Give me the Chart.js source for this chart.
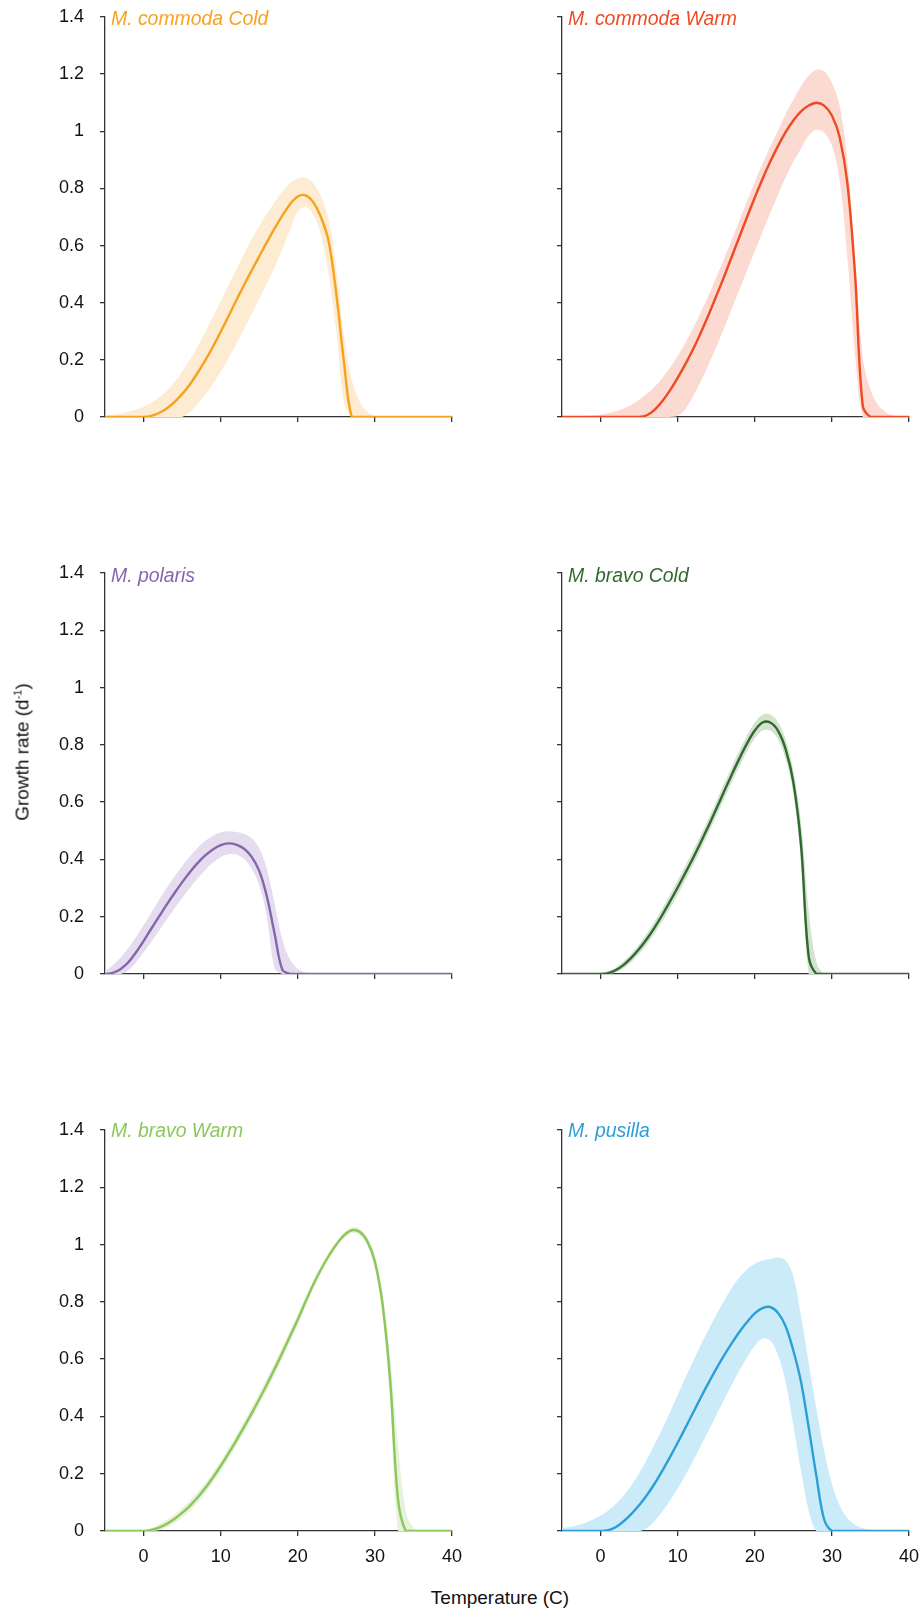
<!DOCTYPE html>
<html>
<head>
<meta charset="utf-8">
<script src="https://cdn.jsdelivr.net/npm/chart.js@4.4.1/dist/chart.umd.min.js"></script>
<style>
  body { margin: 0; width: 923px; height: 1608px; background: #fff; position: relative; overflow: hidden;
         font-family: "Liberation Sans", Arial, sans-serif; color: #111; }
  canvas { position: absolute; }
  .title { position: absolute; font-style: italic; font-size: 19.4px; line-height: 1; white-space: nowrap; }
  .axis-title { position: absolute; font-size: 19px; line-height: 1; white-space: nowrap; }
  .axis-title sup { font-size: 11px; vertical-align: 7px; }
</style>
</head>
<body>
<script>
// temperature grid (C)
const temps = [-5,-4,-3,-2,-1,0,1,2,3,4,5,6,7,8,9,10,11,12,13,14,15,16,17,18,19,20,
               21,22,23,24,25,26,27,28,29,30,31,32,33,34,35,36,37,38,39,40];
const xTicks = [0, 10, 20, 30, 40];
const yTicks = [0, 0.2, 0.4, 0.6, 0.8, 1, 1.2, 1.4];

// M. commoda Cold
const ccMean  = [0,0,0,0,0,0,0.004,0.014,0.03,0.052,0.08,0.114,0.154,0.198,0.246,0.298,0.352,0.407,0.46,0.512,0.562,0.612,0.66,0.705,0.745,0.772,
                 0.776,0.752,0.7,0.615,0.43,0.19,0,0,0,0,0,0,0,0,0,0,0,0,0,0];
const ccUpper = [0.005,0.008,0.012,0.018,0.026,0.036,0.05,0.068,0.092,0.122,0.158,0.2,0.247,0.297,0.35,0.404,0.46,0.515,0.568,0.62,0.668,0.712,0.752,0.788,0.818,0.835,
                 0.837,0.818,0.772,0.69,0.52,0.28,0.13,0.055,0.018,0.004,0,0,0,0,0,0,0,0,0,0];
const ccLower = [0,0,0,0,0,0,0,0,0,0,0,0.018,0.045,0.078,0.116,0.158,0.205,0.255,0.307,0.36,0.414,0.468,0.525,0.588,0.655,0.718,
                 0.736,0.708,0.638,0.5,0.3,0.05,0,0,0,0,0,0,0,0,0,0,0,0,0,0];

// M. commoda Warm
const cwMean  = [0,0,0,0,0,0,0,0,0,0,0,0.006,0.025,0.055,0.093,0.137,0.185,0.237,0.295,0.357,0.423,0.49,0.56,0.63,0.7,0.768,
                 0.833,0.893,0.948,0.997,1.038,1.07,1.09,1.1,1.09,1.055,0.98,0.82,0.5,0.04,0,0,0,0,0,0];
const cwUpper = [0,0.001,0.002,0.003,0.005,0.008,0.013,0.02,0.03,0.043,0.06,0.081,0.106,0.136,0.172,0.213,0.26,0.311,0.366,0.425,0.488,0.553,0.62,0.688,0.755,0.822,
                 0.886,0.946,1.003,1.06,1.11,1.158,1.195,1.215,1.21,1.17,1.09,0.9,0.55,0.21,0.095,0.042,0.016,0.005,0.001,0];
const cwLower = [0,0,0,0,0,0,0,0,0,0,0,0,0,0,0,0.004,0.028,0.072,0.125,0.183,0.245,0.31,0.377,0.445,0.513,0.58,
                 0.647,0.713,0.777,0.838,0.893,0.94,0.985,1.005,0.995,0.95,0.83,0.56,0.22,0,0,0,0,0,0,0];

// M. polaris
const poMean  = [0,0.004,0.017,0.04,0.075,0.115,0.158,0.2,0.242,0.282,0.32,0.355,0.387,0.414,0.435,0.45,0.456,0.452,0.438,0.41,0.36,0.27,0.14,0.015,0,0,
                 0,0,0,0,0,0,0,0,0,0,0,0,0,0,0,0,0,0,0,0];
const poUpper = [0.01,0.03,0.057,0.09,0.128,0.17,0.214,0.258,0.3,0.34,0.376,0.41,0.44,0.465,0.483,0.494,0.498,0.496,0.49,0.475,0.44,0.365,0.245,0.12,0.05,0.018,
                 0.005,0,0,0,0,0,0,0,0,0,0,0,0,0,0,0,0,0,0,0];
const poLower = [0,0,0,0.012,0.04,0.075,0.112,0.15,0.19,0.228,0.265,0.3,0.333,0.363,0.389,0.408,0.418,0.417,0.402,0.368,0.31,0.2,0.02,0,0,0,
                 0,0,0,0,0,0,0,0,0,0,0,0,0,0,0,0,0,0,0,0];

// M. bravo Cold
const bcMean  = [0,0,0,0,0,0,0.003,0.014,0.032,0.057,0.087,0.122,0.162,0.206,0.253,0.302,0.353,0.405,0.46,0.517,0.576,0.636,0.695,0.752,0.805,0.85,
                 0.878,0.878,0.85,0.785,0.67,0.45,0.06,0,0,0,0,0,0,0,0,0,0,0,0,0];
const bcUpper = [0,0,0,0,0,0.004,0.01,0.024,0.045,0.072,0.104,0.141,0.183,0.229,0.277,0.327,0.378,0.43,0.485,0.542,0.602,0.663,0.722,0.78,0.833,0.878,
                 0.905,0.906,0.88,0.82,0.71,0.53,0.22,0.04,0,0,0,0,0,0,0,0,0,0,0,0];
const bcLower = [0,0,0,0,0,0,0,0.005,0.02,0.042,0.07,0.103,0.141,0.183,0.229,0.277,0.328,0.38,0.435,0.492,0.55,0.609,0.668,0.724,0.777,0.822,
                 0.85,0.85,0.82,0.75,0.63,0.39,0,0,0,0,0,0,0,0,0,0,0,0,0,0];

// M. bravo Warm
const bwMean  = [0,0,0,0,0,0,0.004,0.012,0.025,0.042,0.063,0.088,0.117,0.15,0.187,0.227,0.27,0.315,0.362,0.41,0.46,0.512,0.566,0.622,0.68,0.738,
                 0.8,0.86,0.913,0.96,1.0,1.032,1.05,1.045,1.012,0.94,0.79,0.52,0.11,0,0,0,0,0,0,0];
const bwUpper = [0,0,0,0,0,0.003,0.01,0.023,0.039,0.058,0.08,0.106,0.135,0.168,0.205,0.245,0.288,0.333,0.381,0.43,0.48,0.532,0.586,0.642,0.699,0.756,
                 0.816,0.874,0.925,0.971,1.01,1.042,1.06,1.056,1.026,0.962,0.83,0.6,0.3,0.07,0.012,0,0,0,0,0];
const bwLower = [0,0,0,0,0,0,0,0.003,0.012,0.027,0.046,0.07,0.099,0.132,0.169,0.209,0.252,0.297,0.343,0.39,0.44,0.492,0.546,0.602,0.661,0.72,
                 0.784,0.846,0.901,0.949,0.99,1.022,1.04,1.034,0.998,0.915,0.75,0.44,0,0,0,0,0,0,0,0];

// M. pusilla
const puMean  = [0,0,0,0,0,0,0.003,0.014,0.034,0.06,0.09,0.125,0.165,0.21,0.258,0.308,0.36,0.413,0.466,0.517,0.566,0.612,0.655,0.695,0.73,0.76,
                 0.778,0.782,0.762,0.715,0.63,0.52,0.36,0.19,0.04,0,0,0,0,0,0,0,0,0,0,0];
const puUpper = [0.01,0.014,0.02,0.029,0.04,0.054,0.072,0.095,0.124,0.16,0.202,0.25,0.302,0.357,0.415,0.475,0.535,0.593,0.65,0.703,0.755,0.802,0.848,0.885,0.914,0.933,
                 0.944,0.95,0.955,0.945,0.89,0.75,0.585,0.425,0.28,0.165,0.09,0.045,0.022,0.01,0.004,0,0,0,0,0];
const puLower = [0,0,0,0,0,0,0,0,0,0,0,0.01,0.035,0.068,0.106,0.148,0.195,0.245,0.297,0.35,0.404,0.458,0.51,0.56,0.607,0.647,
                 0.672,0.665,0.615,0.52,0.37,0.21,0.07,0,0,0,0,0,0,0,0,0,0,0,0,0];

const FONT = '"Liberation Sans", Arial, sans-serif';
const AXIS = '#333333';

const panels = [
  { title: 'M. commoda Cold', mean: ccMean, upper: ccUpper, lower: ccLower, line: '#F7A21E', fill: '#FDEBD2', col: 0, row: 0 },
  { title: 'M. commoda Warm', mean: cwMean, upper: cwUpper, lower: cwLower, line: '#EF4A22', fill: '#FBDBD1', col: 1, row: 0 },
  { title: 'M. polaris',      mean: poMean, upper: poUpper, lower: poLower, line: '#8466B0', fill: '#E5DCEE', col: 0, row: 1 },
  { title: 'M. bravo Cold',   mean: bcMean, upper: bcUpper, lower: bcLower, line: '#306A2F', fill: '#D3E3CF', col: 1, row: 1 },
  { title: 'M. bravo Warm',   mean: bwMean, upper: bwUpper, lower: bwLower, line: '#8CC75A', fill: '#E7F2DC', col: 0, row: 2 },
  { title: 'M. pusilla',      mean: puMean, upper: puUpper, lower: puLower, line: '#2C9FD8', fill: '#CCEBF9', col: 1, row: 2 }
];

// plot-area tops/heights of the three rows, canvas left edges of the two columns
const rowTop = [17, 573, 1130];
const rowH = [400, 401, 401];
const colLeft = [0, 457];
const colWidth = [470, 466];
const colPadRight = [18, 14];
const titleTop = [9, 566, 1121];
const titleLeft = [111, 568];
const PADTOP = 15;

const pts = arr => arr.map((v, i) => ({ x: temps[i], y: v }));

panels.forEach(p => {
  const showY = p.col === 0;
  const showX = p.row === 2;
  const xAxisH = showX ? 45 : 20;

  const cv = document.createElement('canvas');
  cv.width = colWidth[p.col];
  cv.height = PADTOP + rowH[p.row] + xAxisH;
  cv.style.left = colLeft[p.col] + 'px';
  cv.style.top = (rowTop[p.row] - PADTOP) + 'px';
  document.body.appendChild(cv);

  const curve = { cubicInterpolationMode: 'default', tension: 0.35 };

  new Chart(cv.getContext('2d'), {
    type: 'line',
    data: {
      datasets: [
        { data: pts(p.mean), borderColor: p.line, borderWidth: 2.4, fill: false, ...curve },
        { data: pts(p.upper), borderWidth: 0, borderColor: 'transparent', backgroundColor: p.fill, fill: '+1', ...curve },
        { data: pts(p.lower), borderWidth: 0, borderColor: 'transparent', fill: false, ...curve }
      ]
    },
    options: {
      responsive: false,
      animation: false,
      devicePixelRatio: 1,
      layout: { padding: { top: PADTOP, right: colPadRight[p.col], left: 0, bottom: 0 } },
      elements: { point: { radius: 0 } },
      plugins: { legend: { display: false }, tooltip: { enabled: false } },
      scales: {
        x: {
          type: 'linear', min: -5, max: 40,
          afterBuildTicks: s => { s.ticks = xTicks.map(v => ({ value: v })); },
          afterFit: s => { s.height = xAxisH; s.paddingLeft = 0; s.paddingRight = 0; },
          grid: { drawOnChartArea: false, drawTicks: true, tickLength: 5, color: AXIS, lineWidth: 1.3 },
          border: { color: AXIS, width: 1.3 },
          ticks: { display: showX, autoSkip: false, maxRotation: 0, padding: 10, color: '#111',
                   font: { family: FONT, size: 18 } }
        },
        y: {
          type: 'linear', min: 0, max: 1.4,
          afterBuildTicks: s => { s.ticks = yTicks.map(v => ({ value: v })); },
          afterFit: s => { s.width = 105; s.paddingTop = 0; s.paddingBottom = 0; },
          grid: { drawOnChartArea: false, drawTicks: true, tickLength: 5, color: AXIS, lineWidth: 1.3 },
          border: { color: AXIS, width: 1.3 },
          ticks: { display: showY, autoSkip: false, padding: 16, color: '#111',
                   font: { family: FONT, size: 18 },
                   callback: v => String(+v.toFixed(1)) }
        }
      }
    }
  });

  const t = document.createElement('div');
  t.className = 'title';
  t.textContent = p.title;
  t.style.color = p.line;
  t.style.left = titleLeft[p.col] + 'px';
  t.style.top = titleTop[p.row] + 'px';
  document.body.appendChild(t);
});

const yt = document.createElement('div');
yt.className = 'axis-title';
yt.innerHTML = 'Growth rate (d<sup>-1</sup>)';
yt.style.left = '22px';
yt.style.top = '752px';
yt.style.transform = 'translate(-50%, -50%) rotate(-90deg)';
document.body.appendChild(yt);

const xt = document.createElement('div');
xt.className = 'axis-title';
xt.textContent = 'Temperature (C)';
xt.style.left = '500px';
xt.style.top = '1597px';
xt.style.transform = 'translate(-50%, -50%)';
document.body.appendChild(xt);
</script>
</body>
</html>
